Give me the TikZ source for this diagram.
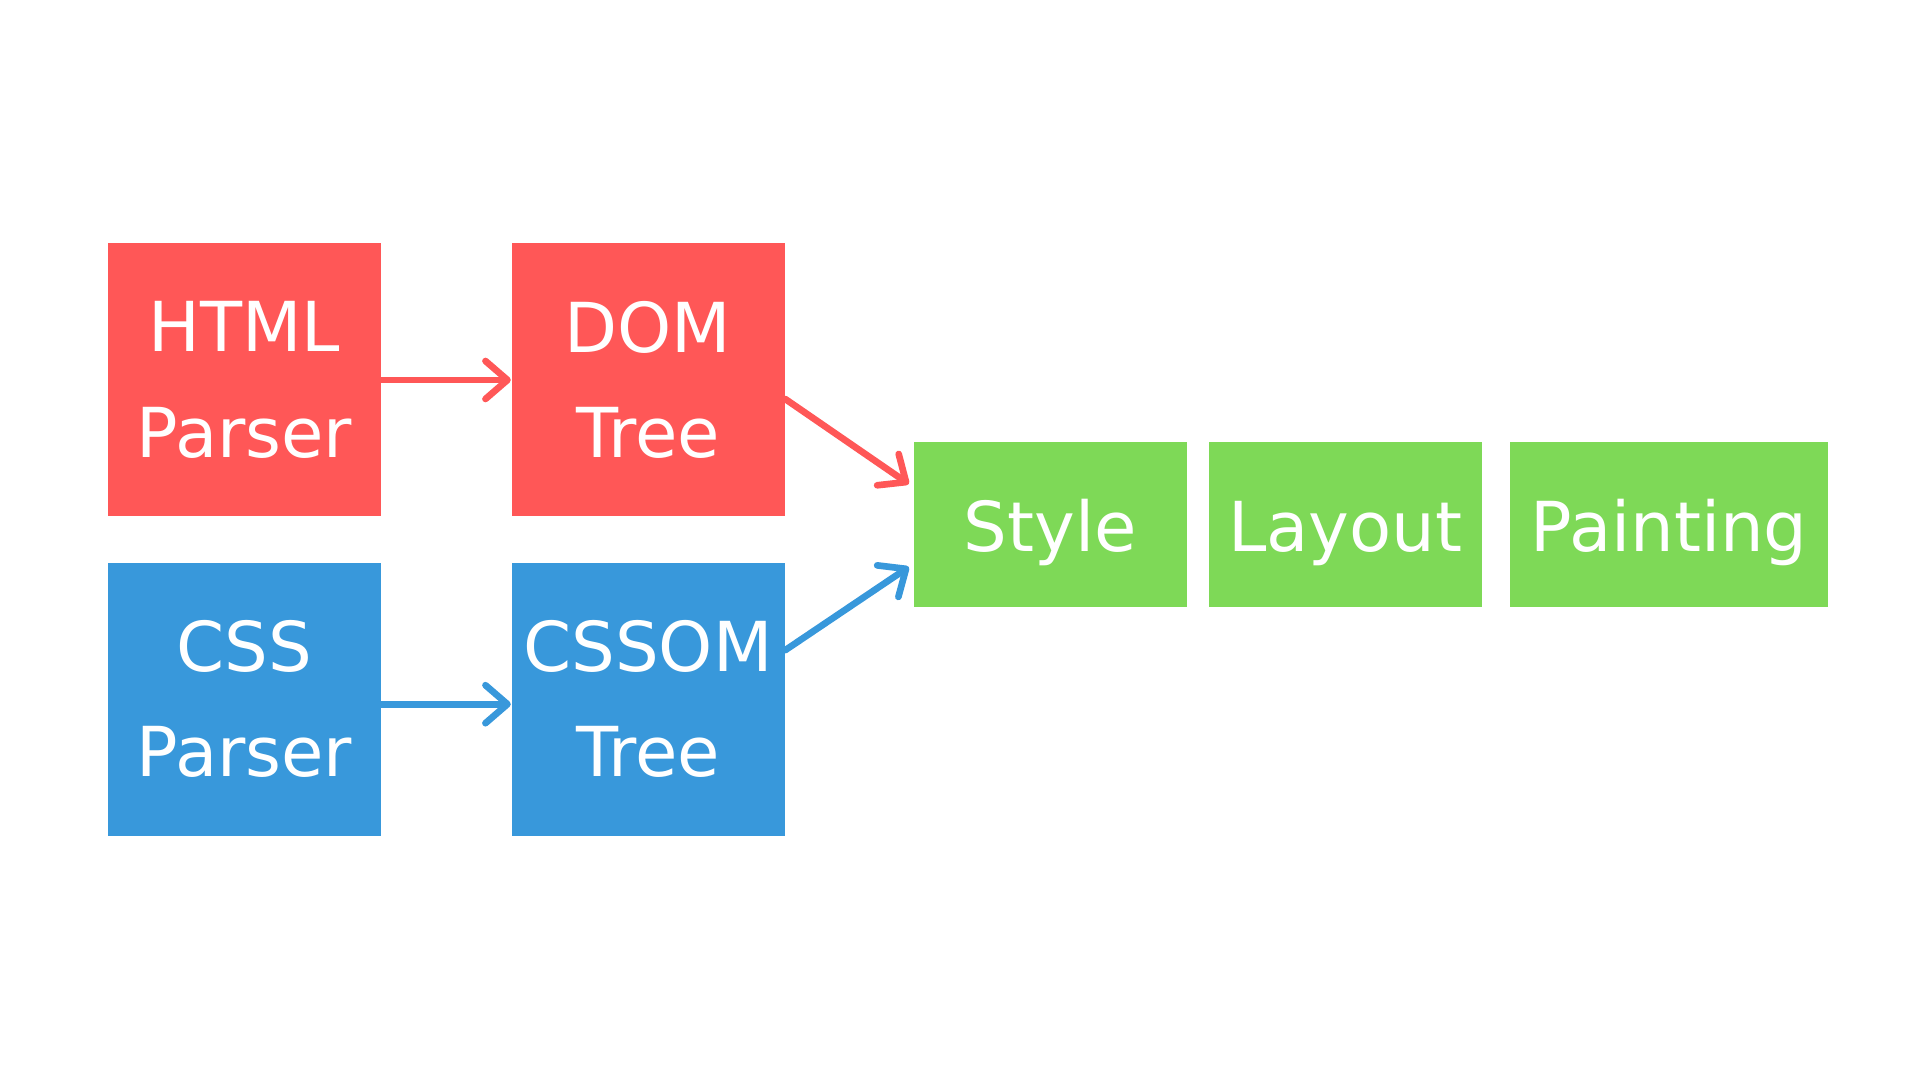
\documentclass[tikz,border=0pt]{standalone}
\usepackage{fontspec}
\setmainfont{DejaVu Sans}
\usetikzlibrary{arrows.meta}

\definecolor{htmlred}{RGB}{255,87,87}
\definecolor{cssblue}{RGB}{56,152,219}
\definecolor{stepgreen}{RGB}{126,217,87}

\begin{document}
\begin{tikzpicture}[
    box/.style={inner sep=0pt, text=white, align=center, font=\fontsize{19.6}{30}\selectfont},
    redbox/.style={box, fill=htmlred, minimum width=2.73cm, minimum height=2.73cm},
    bluebox/.style={box, fill=cssblue, minimum width=2.73cm, minimum height=2.73cm},
    greenbox/.style={box, fill=stepgreen, minimum height=1.65cm, text height=0.54cm, text depth=0pt},
    flow/.style={line width=1.9pt, line cap=round, -{Straight Barb[length=0.22cm, width=0.38cm, line cap=round, line join=round]}}
]
    \useasboundingbox (0,0) rectangle (19.2,10.8);

    % Parsers
    \node[redbox] (html) at (2.443,7.0) {HTML\\Parser};
    \node[bluebox] (css) at (2.443,3.808) {CSS\\Parser};

    % Trees
    \node[redbox] (dom) at (6.48,7.0) {DOM\\Tree};
    \node[bluebox] (cssom) at (6.48,3.808) {CSSOM\\Tree};

    % Rendering steps
    \node[greenbox, minimum width=2.73cm] (style) at (10.50,5.55) {Style};
    \node[greenbox, minimum width=2.73cm] (layout) at (13.453,5.55) {Layout};
    \node[greenbox, minimum width=3.18cm] (painting) at (16.69,5.55) {Painting};

    % Arrows
    \draw[flow, htmlred] (html.east) -- (dom.west);
    \draw[flow, cssblue] ([yshift=-0.05cm]css.east) -- ([yshift=-0.05cm]cssom.west);
    \draw[flow, htmlred] ([yshift=-0.19cm]dom.east) -- ([xshift=-0.04cm, yshift=0.41cm]style.west);
    \draw[flow, cssblue] ([yshift=0.49cm]cssom.east) -- ([xshift=-0.04cm, yshift=-0.42cm]style.west);
\end{tikzpicture}
\end{document}
